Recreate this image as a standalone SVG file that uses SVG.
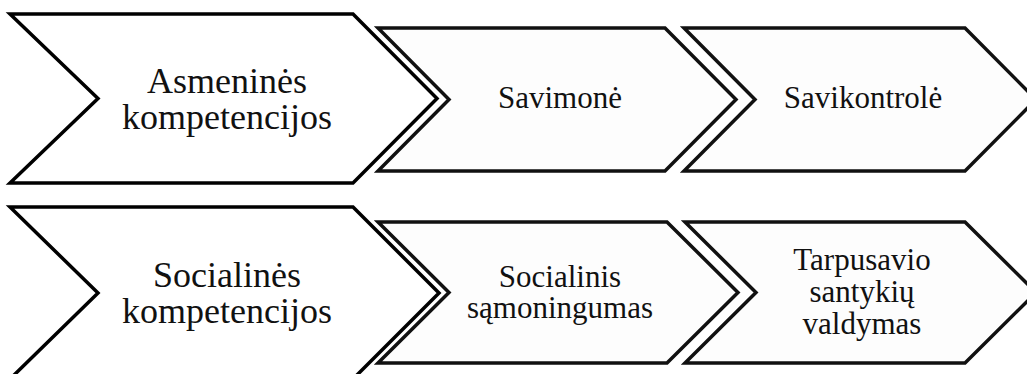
<svg xmlns="http://www.w3.org/2000/svg" width="1027" height="374" viewBox="0 0 1027 374">
<style>
.big{fill:#ffffff;stroke:#000;stroke-width:3.5;stroke-linejoin:miter}
.med{fill:#fdfdfd;stroke:#111;stroke-width:3.5;stroke-linejoin:miter}
.tb{font-family:"Liberation Serif","Times New Roman",serif;font-size:36px;fill:#111;text-anchor:middle}
.tm{font-family:"Liberation Serif","Times New Roman",serif;font-size:31px;fill:#111;text-anchor:middle}
</style>
<rect width="1027" height="374" fill="#ffffff"/>
<g id="connectors"></g>
<g id="asmenines">
<polygon class="big" points="10,14 353,14 437,98.5 353,183 10,183 98,98.5"/>
<text class="tb" x="227" y="93">Asmeninės</text>
<text class="tb" x="227" y="129">kompetencijos</text>
</g>
<g id="savimone">
<polygon class="med" points="378,28 665,28 736,99.5 665,171 378,171 449,99.5"/>
<text class="tm" x="560" y="108">Savimonė</text>
</g>
<g id="savikontrole">
<polygon class="med" points="684,28 965,28 1036,99.5 965,171 684,171 755,99.5"/>
<text class="tm" x="863" y="108">Savikontrolė</text>
</g>
<g id="socialines">
<polygon class="big" points="10,207 353,207 439,293 353,379 10,379 98,293"/>
<text class="tb" x="227" y="287">Socialinės</text>
<text class="tb" x="227" y="323">kompetencijos</text>
</g>
<g id="socialinis">
<polygon class="med" points="378,222 667,222 738,292.5 667,363 378,363 449,292.5"/>
<text class="tm" x="560" y="287">Socialinis</text>
<text class="tm" x="560" y="318">sąmoningumas</text>
</g>
<g id="tarpusavio">
<polygon class="med" points="685,222 965,222 1036,292.5 965,363 685,363 756,292.5"/>
<text class="tm" x="862" y="270">Tarpusavio</text>
<text class="tm" x="862" y="302">santykių</text>
<text class="tm" x="862" y="334">valdymas</text>
</g>
</svg>
